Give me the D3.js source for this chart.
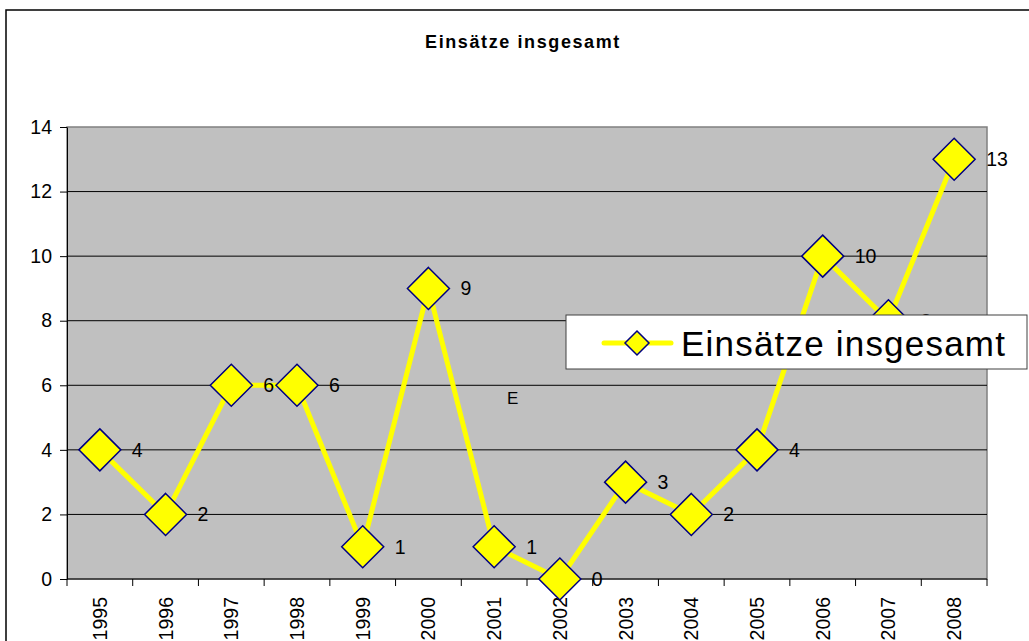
<!DOCTYPE html>
<html>
<head>
<meta charset="utf-8">
<script src="https://cdn.jsdelivr.net/npm/d3@7"></script>
<style>
  body { margin: 0; background: #fff; }
  text { font-family: "Liberation Sans", Arial, sans-serif; }
</style>
</head>
<body>
<div id="chart"></div>
<script>
const years = ['1995', '1996', '1997', '1998', '1999', '2000', '2001', '2002', '2003', '2004', '2005', '2006', '2007', '2008'];
const einsaetze = [4, 2, 6, 6, 1, 9, 1, 0, 3, 2, 4, 10, 8, 13];
const yTicks = [0, 2, 4, 6, 8, 10, 12, 14];
const seriesName = 'Einsätze insgesamt';

const width = 1029, height = 641;
const plot = { left: 67, top: 127, right: 987, bottom: 579 };

const svg = d3.select('#chart').append('svg')
    .attr('width', width)
    .attr('height', height);

// chart frame
svg.append('rect')
    .attr('x', 6).attr('y', 10)
    .attr('width', width + 10).attr('height', height + 10)
    .style('fill', '#fff')
    .style('stroke', '#000')
    .style('stroke-width', 1.5);

svg.append('text')
    .attr('x', 523).attr('y', 48)
    .attr('text-anchor', 'middle')
    .style('font-size', '18px')
    .style('font-weight', 'bold')
    .style('letter-spacing', '1.6px')
    .text(seriesName);

const x = d3.scaleBand()
    .domain(years)
    .range([plot.left, plot.right]);
const y = d3.scaleLinear()
    .domain([0, 14])
    .range([plot.bottom, plot.top]);

// plot background
svg.append('rect')
    .attr('x', plot.left).attr('y', plot.top)
    .attr('width', plot.right - plot.left)
    .attr('height', plot.bottom - plot.top)
    .style('fill', '#c0c0c0')
    .style('stroke', '#808080')
    .style('stroke-width', 1.5);

// gridlines
svg.append('g').selectAll('line')
    .data(yTicks.filter(d => d > 0 && d < 14))
    .join('line')
    .attr('x1', plot.left).attr('x2', plot.right)
    .attr('y1', d => y(d)).attr('y2', d => y(d))
    .style('stroke', '#000')
    .style('stroke-width', 1);

// y axis
const yAxis = svg.append('g')
    .attr('transform', `translate(${plot.left},0)`)
    .call(d3.axisLeft(y).tickValues(yTicks).tickSize(7).tickPadding(8).tickSizeOuter(0));
yAxis.selectAll('text').style('font-size', '19.5px').style('fill', '#000');
yAxis.selectAll('line, path').style('stroke', '#000');

// x axis with ticks at category boundaries
const xAxisG = svg.append('g')
    .attr('transform', `translate(0,${plot.bottom})`);
xAxisG.append('line')
    .attr('x1', plot.left).attr('x2', plot.right)
    .style('stroke', '#000');
xAxisG.selectAll('.tick-b')
    .data(years.concat(['end']))
    .join('line')
    .attr('x1', (d, i) => plot.left + i * x.step())
    .attr('x2', (d, i) => plot.left + i * x.step())
    .attr('y1', 0).attr('y2', 7)
    .style('stroke', '#000');
xAxisG.selectAll('text')
    .data(years)
    .join('text')
    .attr('transform', d => `translate(${x(d) + x.bandwidth() / 2 + 7},18) rotate(-90)`)
    .attr('text-anchor', 'end')
    .style('font-size', '19.5px')
    .text(d => d);

const cx = (d, i) => x(years[i]) + x.bandwidth() / 2;

const line = d3.line()
    .x((d, i) => cx(d, i))
    .y(d => y(d));

svg.append('path')
    .datum(einsaetze)
    .attr('d', line)
    .style('fill', 'none')
    .style('stroke', '#ffff00')
    .style('stroke-width', 5)
    .style('stroke-linejoin', 'round');

const diamond = r => `M0,${-r}L${r},0L0,${r}L${-r},0Z`;

svg.append('g').selectAll('path')
    .data(einsaetze)
    .join('path')
    .attr('transform', (d, i) => `translate(${cx(d, i)},${y(d)})`)
    .attr('d', diamond(21))
    .style('fill', '#ffff00')
    .style('stroke', '#000080')
    .style('stroke-width', 1.5);

svg.append('g').selectAll('text')
    .data(einsaetze)
    .join('text')
    .attr('x', (d, i) => cx(d, i) + 32)
    .attr('y', d => y(d) + 7)
    .style('font-size', '19.5px')
    .text(d => d);

// stray label inside the plot
svg.append('text')
    .attr('x', 507).attr('y', 404)
    .style('font-size', '17px')
    .text('E');

// legend
const legend = svg.append('g');
legend.append('rect')
    .attr('x', 566).attr('y', 315)
    .attr('width', 461).attr('height', 54)
    .style('fill', '#fff')
    .style('stroke', '#404040')
    .style('stroke-width', 1);
legend.append('line')
    .attr('x1', 604).attr('x2', 671)
    .attr('y1', 343).attr('y2', 343)
    .style('stroke', '#ffff00')
    .style('stroke-width', 5)
    .style('stroke-linecap', 'round');
legend.append('path')
    .attr('transform', 'translate(637,343)')
    .attr('d', diamond(12))
    .style('fill', '#ffff00')
    .style('stroke', '#000080')
    .style('stroke-width', 1.5);
legend.append('text')
    .attr('x', 681).attr('y', 356)
    .style('font-size', '35px')
    .style('letter-spacing', '1.2px')
    .text(seriesName);
</script>
</body>
</html>
